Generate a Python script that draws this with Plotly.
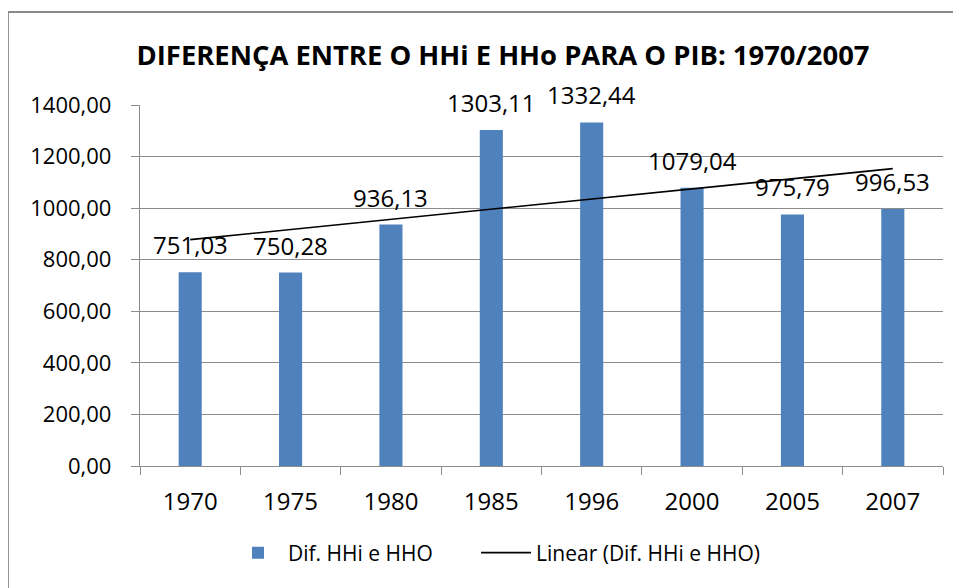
import numpy as np
import plotly.graph_objects as go

categories = ["1970", "1975", "1980", "1985", "1996", "2000", "2005", "2007"]
values = [751.03, 750.28, 936.13, 1303.11, 1332.44, 1079.04, 975.79, 996.53]
label_texts = ["751,03", "750,28", "936,13", "1303,11", "1332,44", "1079,04", "975,79", "996,53"]
title_text = "DIFERENÇA ENTRE O HHi E HHo PARA O PIB: 1970/2007"
bar_name = "Dif. HHi e HHO"
trend_name = "Linear (Dif. HHi e HHO)"

# Linear trendline (least squares over category index, as Excel does)
idx = np.arange(1, len(values) + 1)
slope, intercept = np.polyfit(idx, values, 1)
trend = [slope * i + intercept for i in (idx[0], idx[-1])]
trend_x = [categories[0], categories[-1]]

FONT = "Open Sans"
BAR = "#4F81BD"
GRID = "#8C8C8C"

L, R, T, B = 132, 26, 97, 130
PW = 961 - L - R
PH = 588 - T - B

fig = go.Figure()
fig.add_trace(go.Bar(x=categories, y=values, name=bar_name + "\u00a0" * 7,
                     marker=dict(color=BAR, line=dict(width=0)), width=0.23))
fig.add_trace(go.Scatter(x=trend_x, y=trend, mode="lines", name=trend_name,
                         line=dict(color="black", width=1.6)))

for i, (v, t) in enumerate(zip(values, label_texts)):
    fig.add_annotation(x=i, y=v, text=t, showarrow=False, yanchor="bottom", yshift=9,
                       font=dict(family=FONT, size=24, color="black"))

fig.update_layout(
    width=961, height=588,
    margin=dict(l=L, r=R, t=T, b=B),
    paper_bgcolor="white", plot_bgcolor="white",
    separators=",.",
    showlegend=True,
    bargap=0.77,
    title=dict(text="<b>" + title_text + "</b>", x=495 / 961, xanchor="center", y=1 - 47 / 588, yanchor="middle",
               font=dict(family=FONT, size=27.4, color="black")),
    font=dict(family=FONT, color="black"),
    legend=dict(orientation="h", x=(220 - L) / PW, xanchor="left", y=-(545 - T - PH) / PH, yanchor="middle",
                font=dict(family=FONT, size=21, color="black"), itemwidth=50, tracegroupgap=0),
    xaxis=dict(type="category", range=[-0.5, len(categories) - 0.5], showgrid=False, showline=True,
               linecolor=GRID, linewidth=1.3,
               ticks="outside", tickson="boundaries", ticklen=8, tickcolor=GRID, tickwidth=1.3,
               tickfont=dict(family=FONT, size=24, color="black"), ticklabelstandoff=14, tickangle=0),
    yaxis=dict(range=[0, 1400], dtick=200, tickformat=".2f", showgrid=True, gridcolor=GRID, gridwidth=1.3,
               showline=True, linecolor=GRID, linewidth=1.3, ticks="outside", ticklen=8,
               tickcolor=GRID, tickwidth=1.3, zeroline=False,
               tickfont=dict(family=FONT, size=22, color="black"), ticklabelstandoff=15),
)

fig.add_shape(type="rect", xref="paper", yref="paper",
              x0=(0 - L) / PW, x1=1.2, y0=-1.0, y1=(T + PH - 4) / PH,
              line=dict(color="#8A8A8A", width=1.8), fillcolor="rgba(0,0,0,0)", layer="below")

fig.write_html("out.html")
